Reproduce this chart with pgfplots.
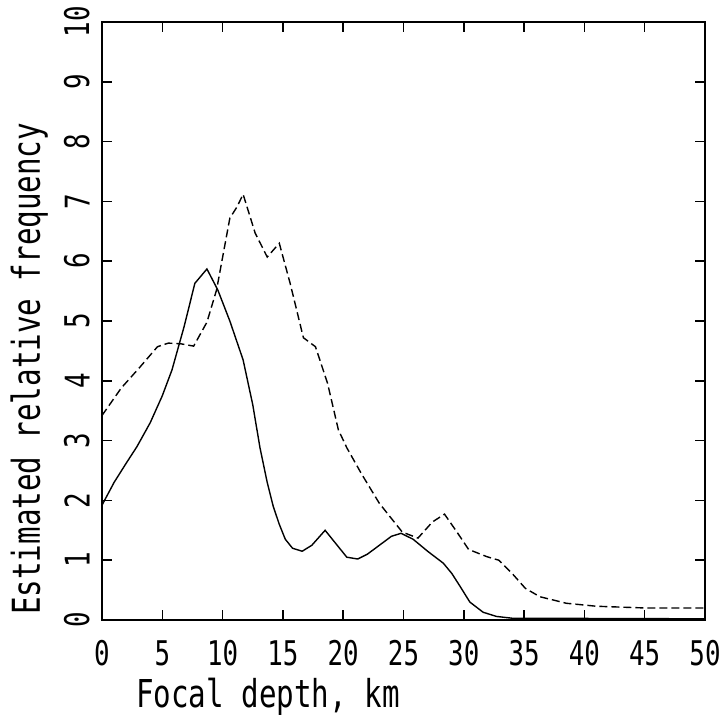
\documentclass[border=0pt]{standalone}
\usepackage{pgfplots}
\pgfplotsset{compat=1.18}
\usepackage{fontspec}
\setmainfont{DejaVu Sans Mono}[FakeStretch=0.76]

\begin{document}
\begin{tikzpicture}
\begin{axis}[
    scale only axis,
    width=301.5pt, height=299pt,
    xmin=0, xmax=50, ymin=0, ymax=10,
    xtick={0,5,...,50},
    ytick={0,1,...,10},
    tick align=inside,
    major tick length=5pt,
    axis line style={line width=0.75pt},
    tick style={line width=0.75pt, black},
    /pgf/number format/assume math mode=true,
    ticklabel style={font=\fontsize{17pt}{20pt}\selectfont, inner sep=0pt},
    xticklabel shift=10pt,
    yticklabel shift=6pt,
    yticklabel style={rotate=90, anchor=south},
    xlabel={Focal depth, km},
    ylabel={Estimated relative frequency},
    label style={font=\fontsize{19.2pt}{23pt}\selectfont, inner sep=0pt},
    xlabel style={at={(axis description cs:0.056,0)}, anchor=north west, yshift=-29pt},
    ylabel style={at={(axis description cs:-0.1526,0.008)}, anchor=north west, rotate=0},
]
% solid curve
\addplot[black, line width=0.7pt] coordinates {
    (0,1.92) (1,2.3) (2,2.62) (2.9,2.9) (4,3.3) (5,3.75) (5.8,4.18)
    (6.8,4.9) (7.7,5.63) (8.7,5.87) (9.6,5.52) (10.6,5.0) (11.7,4.35)
    (12.5,3.6) (13.1,2.88) (13.7,2.3) (14.2,1.9) (14.7,1.6) (15.2,1.35)
    (15.8,1.2) (16.6,1.15) (17.4,1.25) (18.5,1.5) (19.3,1.3) (20.3,1.05)
    (21.2,1.02) (22,1.1) (23,1.25) (24,1.4) (24.8,1.45) (25.8,1.35)
    (27,1.15) (28.3,0.95) (29,0.78) (29.7,0.56) (30.5,0.3) (31.6,0.13)
    (32.7,0.06) (34,0.03) (50,0.02)
};
% dashed curve
\addplot[black, line width=0.7pt, dash pattern=on 4pt off 2pt] coordinates {
    (0,3.42) (1.6,3.88) (3.15,4.23) (4.6,4.57) (5.5,4.63) (6.5,4.62)
    (7.6,4.58) (8.7,4.98) (9.5,5.52) (10.6,6.72) (11.2,6.91) (11.7,7.12)
    (12.7,6.47) (13.7,6.07) (14.7,6.3) (15.6,5.63) (16.7,4.72) (17.7,4.57)
    (18.7,3.96) (19.6,3.18) (20.3,2.88) (21.5,2.45) (23,1.95) (24.9,1.47)
    (26.2,1.37) (27.4,1.64) (28.4,1.77) (29.4,1.48) (30.4,1.18) (31.9,1.06)
    (32.9,1.0) (34,0.78) (35.1,0.53) (36.3,0.39) (38.5,0.28) (41,0.23)
    (45.2,0.2) (49.4,0.2) (50,0.2)
};
\end{axis}
\pgfresetboundingbox
\path ([shift={(-51pt,-49pt)}]current axis.south west) rectangle ([shift={(8pt,11pt)}]current axis.north east);
\end{tikzpicture}
\end{document}
